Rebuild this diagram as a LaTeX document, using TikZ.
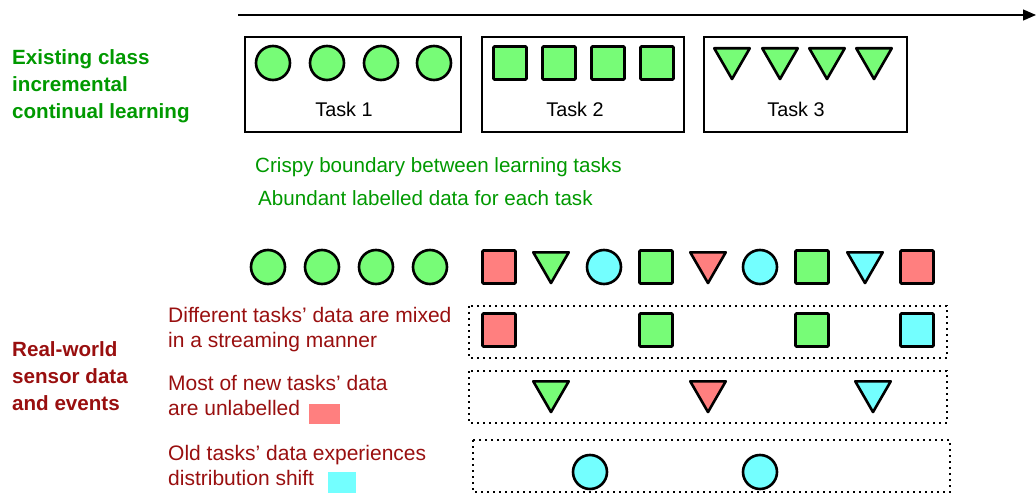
\documentclass[tikz,border=0pt]{standalone}
\usepackage{fontspec}
\setmainfont{Liberation Sans}
\usetikzlibrary{arrows.meta,shapes.geometric}

\definecolor{ptgreen}{HTML}{77FC77}
\definecolor{ptred}{HTML}{FF7F7F}
\definecolor{ptcyan}{HTML}{73FFFF}
\definecolor{txtgreen}{HTML}{009900}
\definecolor{txtred}{HTML}{990F0F}

\tikzset{
  dot/.style = {circle, draw, line width=2.6pt, inner sep=0pt, minimum size=34pt},
  sq/.style = {rectangle, draw, line width=2.6pt, inner sep=0pt, minimum size=33pt, rounded corners=1pt},
  tri/.style = {regular polygon, regular polygon sides=3, shape border rotate=180,
                draw, line width=2.6pt, inner sep=0pt, minimum size=41pt, anchor=north,
                line join=round},
  taskbox/.style = {draw, line width=1.3pt},
  streambox/.style = {draw, line width=1.4pt, dash pattern=on 2pt off 4pt},
  tasklabel/.style = {anchor=base, font=\fontsize{19.8}{24}\selectfont},
  note/.style = {anchor=base west, inner sep=0pt, align=left, font=\fontsize{21}{25}\selectfont},
  head/.style = {anchor=base west, inner sep=0pt, align=left, font=\bfseries\fontsize{20.6}{26.8}\selectfont}
}

\begin{document}
\begin{tikzpicture}[x=1pt, y=-1pt, >={Triangle[length=13pt,width=11pt]}]
            \useasboundingbox (0,0) rectangle (1036,494);

            % time axis
            \coordinate (t0) at (238,15);
            \coordinate (t1) at (1036,15);
            \draw[->, line width=1.3pt] (t0) -- (t1);

            % existing class incremental setting (base = last line)
            \node[head, txtgreen] (cil) at (12,118.6) {Existing class\\incremental\\continual learning};

            \draw[taskbox] (245,37) rectangle (461,132);
            \node[dot, fill=ptgreen] (c1) at (273,63) {};
            \node[dot, fill=ptgreen] (c2) at (327,63) {};
            \node[dot, fill=ptgreen] (c3) at (381,63) {};
            \node[dot, fill=ptgreen] (c4) at (434,63) {};
            \node[tasklabel] (task1) at (344,117) {Task 1};

            \draw[taskbox] (482,37) rectangle (684,132);
            \node[sq, fill=ptgreen] (s1) at (510,63) {};
            \node[sq, fill=ptgreen] (s2) at (559,63) {};
            \node[sq, fill=ptgreen] (s3) at (608,63) {};
            \node[sq, fill=ptgreen] (s4) at (657,63) {};
            \node[tasklabel] (task2) at (575,117) {Task 2};

            \draw[taskbox] (704,37) rectangle (907,132);
            \node[tri, fill=ptgreen] (v1) at (732,47) {};
            \node[tri, fill=ptgreen] (v2) at (780,47) {};
            \node[tri, fill=ptgreen] (v3) at (827,47) {};
            \node[tri, fill=ptgreen] (v4) at (874,47) {};
            \node[tasklabel] (task3) at (796,117) {Task 3};

            \node[note, txtgreen, font=\fontsize{20.6}{25}\selectfont] (crisp) at (255,173) {Crispy boundary between learning tasks};
            \node[note, txtgreen, font=\fontsize{20.6}{25}\selectfont] (abund) at (258,206) {Abundant labelled data for each task};

            % real-world stream
            \node[head, txtred] (real) at (12,410) {Real-world\\sensor data\\and events};

            \node[dot, fill=ptgreen] (r1) at (268,267) {};
            \node[dot, fill=ptgreen] (r2) at (322,267) {};
            \node[dot, fill=ptgreen] (r3) at (376,267) {};
            \node[dot, fill=ptgreen] (r4) at (430,267) {};
            \node[sq, fill=ptred] (r5) at (499,267) {};
            \node[tri, fill=ptgreen] (r6) at (551,251) {};
            \node[dot, fill=ptcyan] (r7) at (604,267) {};
            \node[sq, fill=ptgreen] (r8) at (656,267) {};
            \node[tri, fill=ptred] (r9) at (708,251) {};
            \node[dot, fill=ptcyan] (r10) at (760,267) {};
            \node[sq, fill=ptgreen] (r11) at (812,267) {};
            \node[tri, fill=ptcyan] (r12) at (865,251) {};
            \node[sq, fill=ptred] (r13) at (917,267) {};

            % mixed tasks
            \node[note, txtred] (mixed) at (168,348) {Different tasks' data are mixed\\in a streaming manner};
            \draw[streambox] (469,306) rectangle (947,358);
            \node[sq, fill=ptred] (m1) at (499,330) {};
            \node[sq, fill=ptgreen] (m2) at (656,330) {};
            \node[sq, fill=ptgreen] (m3) at (812,330) {};
            \node[sq, fill=ptcyan] (m4) at (917,330) {};

            % unlabelled data
            \node[note, txtred] (unlab) at (168,415) {Most of new tasks' data\\are unlabelled};
            \fill[ptred] (309,404) rectangle (340,424);
            \draw[streambox] (469,371) rectangle (947,423);
            \node[tri, fill=ptgreen] (u1) at (551,380) {};
            \node[tri, fill=ptred] (u2) at (708,380) {};
            \node[tri, fill=ptcyan] (u3) at (873,380) {};

            % distribution shift
            \node[note, txtred] (shift) at (168,485) {Old tasks' data experiences\\distribution shift};
            \fill[ptcyan] (328,472) rectangle (356,493);
            \draw[streambox] (473,440) rectangle (950,492);
            \node[dot, fill=ptcyan] (d1) at (590,472) {};
            \node[dot, fill=ptcyan] (d2) at (760,472) {};
\end{tikzpicture}
\end{document}
